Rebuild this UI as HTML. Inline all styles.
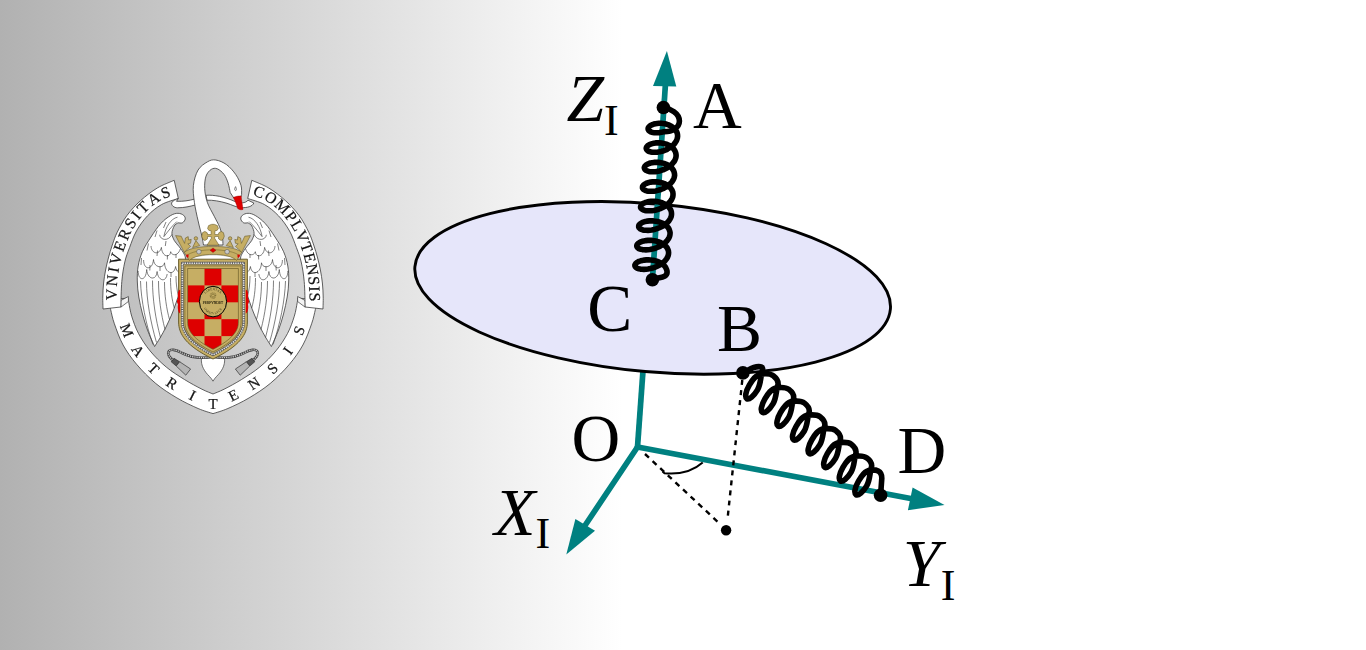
<!DOCTYPE html>
<html><head><meta charset="utf-8"><title>diagram</title>
<style>
html,body{margin:0;padding:0;}
body{width:1366px;height:650px;overflow:hidden;background:#fff;font-family:"Liberation Serif",serif;}
#bg{position:absolute;left:0;top:0;width:1366px;height:650px;
background:linear-gradient(90deg,#b1b1b1 0px,#ffffff 622px,#ffffff 100%);}
svg{position:absolute;left:0;top:0;}
text{font-family:"Liberation Serif",serif;}
</style></head><body><div id="bg"></div>
<svg width="1366" height="650" viewBox="0 0 1366 650">

<g id="diagram">
<line x1="637.5" y1="447.0" x2="642.9" y2="372" stroke="#008080" stroke-width="5.7"/>
<ellipse cx="652.65" cy="287.85" rx="238.7" ry="84.0" transform="rotate(5.12 652.65 287.85)" fill="#e6e6fa" stroke="#000" stroke-width="2.9"/>
<line x1="652.4" y1="280" x2="665.45" y2="84" stroke="#008080" stroke-width="5.7"/>
<polygon points="666.9,51 653,86 676.3,86.5" fill="#008080"/>
<line x1="637.5" y1="447.0" x2="912" y2="498.7" stroke="#008080" stroke-width="5.7" stroke-linecap="round"/>
<polygon points="944.5,505 912.6,487.5 907.9,510.2" fill="#008080"/>
<line x1="637.5" y1="447.0" x2="584" y2="527" stroke="#008080" stroke-width="5.7" stroke-linecap="round"/>
<polygon points="566.3,554.5 575.4,519 595,530.7" fill="#008080"/>
<line x1="645" y1="454" x2="719" y2="523" stroke="#000" stroke-width="2.4" stroke-dasharray="5.4,5"/>
<line x1="742.3" y1="380" x2="727.5" y2="519" stroke="#000" stroke-width="2.4" stroke-dasharray="5,5.1"/>
<circle cx="726.1" cy="530.2" r="5.2" fill="#000"/>
<path d="M662.5,471.5 L664.5,473.2 Q688,475.5 702.7,462.5" fill="none" stroke="#000" stroke-width="2"/>
<path d="M663.4,107.5 C670,108.5 679.6,113 679.4,121.3 C679.3,127.5 672.2,132.1 663.7,131.8 L663.7,131.8 L661.6,132.2 L659.7,132.6 L657.8,132.8 L656.0,132.8 L654.3,132.7 L652.8,132.5 L651.4,132.1 L650.3,131.6 L649.4,131.0 L648.7,130.4 L648.3,129.7 L648.1,128.9 L648.2,128.1 L648.6,127.3 L649.2,126.6 L650.0,125.9 L651.1,125.2 L652.4,124.6 L653.8,124.1 L655.5,123.7 L657.2,123.5 L659.0,123.3 L661.0,123.3 L662.9,123.5 L664.9,123.8 L666.8,124.3 L668.6,124.9 L670.3,125.7 L672.0,126.7 L673.4,127.7 L674.7,128.9 L675.7,130.2 L676.6,131.6 L677.2,133.1 L677.5,134.6 L677.6,136.2 L677.4,137.8 L676.9,139.4 L676.3,141.0 L675.3,142.5 L674.2,144.0 L672.8,145.4 L671.2,146.7 L669.5,147.9 L667.7,148.9 L665.8,149.9 L663.8,150.7 L661.7,151.3 L659.7,151.8 L657.7,152.1 L655.8,152.3 L654.0,152.3 L652.3,152.2 L650.8,151.9 L649.4,151.6 L648.3,151.1 L647.4,150.5 L646.8,149.8 L646.4,149.1 L646.2,148.3 L646.4,147.6 L646.7,146.8 L647.4,146.0 L648.3,145.3 L649.4,144.6 L650.7,144.1 L652.2,143.6 L653.8,143.2 L655.6,142.9 L657.5,142.8 L659.4,142.9 L661.4,143.0 L663.4,143.4 L665.3,143.9 L667.2,144.5 L668.9,145.3 L670.5,146.2 L672.0,147.3 L673.3,148.5 L674.3,149.8 L675.1,151.2 L675.7,152.7 L676.0,154.3 L676.1,155.8 L675.9,157.4 L675.4,159.0 L674.7,160.6 L673.7,162.1 L672.5,163.6 L671.1,165.0 L669.5,166.3 L667.8,167.5 L665.9,168.5 L663.9,169.5 L661.9,170.2 L659.8,170.9 L657.8,171.3 L655.8,171.7 L653.8,171.8 L652.0,171.8 L650.3,171.7 L648.8,171.4 L647.5,171.0 L646.3,170.5 L645.5,169.9 L644.8,169.3 L644.5,168.5 L644.3,167.8 L644.5,167.0 L644.9,166.2 L645.6,165.5 L646.5,164.7 L647.7,164.1 L649.0,163.5 L650.5,163.0 L652.2,162.7 L654.0,162.4 L656.0,162.3 L657.9,162.4 L659.9,162.6 L661.9,162.9 L663.9,163.4 L665.7,164.1 L667.5,164.9 L669.1,165.8 L670.6,166.9 L671.8,168.1 L672.9,169.5 L673.7,170.9 L674.2,172.4 L674.5,173.9 L674.6,175.5 L674.3,177.1 L673.8,178.7 L673.0,180.2 L672.0,181.8 L670.8,183.2 L669.4,184.6 L667.7,185.9 L666.0,187.1 L664.1,188.1 L662.1,189.0 L660.0,189.8 L657.9,190.4 L655.8,190.9 L653.8,191.2 L651.9,191.3 L650.0,191.3 L648.3,191.2 L646.8,190.9 L645.5,190.5 L644.4,190.0 L643.5,189.4 L642.9,188.7 L642.5,188.0 L642.5,187.2 L642.6,186.4 L643.1,185.7 L643.8,184.9 L644.8,184.2 L645.9,183.5 L647.3,183.0 L648.9,182.5 L650.6,182.1 L652.5,181.9 L654.4,181.8 L656.4,181.9 L658.4,182.1 L660.5,182.5 L662.4,183.0 L664.3,183.6 L666.1,184.5 L667.7,185.4 L669.2,186.5 L670.4,187.8 L671.4,189.1 L672.2,190.5 L672.8,192.0 L673.0,193.5 L673.0,195.1 L672.8,196.7 L672.2,198.3 L671.4,199.9 L670.4,201.4 L669.1,202.9 L667.6,204.3 L666.0,205.5 L664.2,206.7 L662.2,207.7 L660.2,208.6 L658.1,209.4 L656.0,210.0 L653.9,210.4 L651.8,210.7 L649.9,210.8 L648.0,210.8 L646.3,210.7 L644.8,210.4 L643.5,210.0 L642.4,209.5 L641.6,208.8 L641.0,208.2 L640.6,207.4 L640.6,206.7 L640.8,205.9 L641.3,205.1 L642.0,204.3 L643.0,203.6 L644.2,203.0 L645.7,202.4 L647.3,202.0 L649.0,201.6 L650.9,201.4 L652.9,201.3 L654.9,201.4 L657.0,201.6 L659.0,202.0 L661.0,202.5 L662.9,203.2 L664.7,204.1 L666.3,205.0 L667.8,206.1 L669.0,207.4 L670.0,208.7 L670.8,210.1 L671.3,211.6 L671.5,213.2 L671.5,214.8 L671.2,216.4 L670.6,218.0 L669.8,219.5 L668.7,221.1 L667.4,222.5 L665.9,223.9 L664.2,225.1 L662.4,226.3 L660.4,227.3 L658.3,228.2 L656.2,228.9 L654.1,229.5 L651.9,230.0 L649.9,230.2 L647.9,230.4 L646.0,230.3 L644.3,230.2 L642.8,229.9 L641.5,229.4 L640.4,228.9 L639.6,228.3 L639.0,227.6 L638.7,226.9 L638.7,226.1 L638.9,225.3 L639.5,224.5 L640.2,223.8 L641.3,223.1 L642.5,222.4 L644.0,221.9 L645.6,221.4 L647.4,221.1 L649.4,220.9 L651.4,220.8 L653.4,220.9 L655.5,221.2 L657.6,221.5 L659.6,222.1 L661.5,222.8 L663.3,223.6 L664.9,224.6 L666.3,225.8 L667.6,227.0 L668.6,228.3 L669.3,229.8 L669.8,231.3 L670.1,232.8 L670.0,234.4 L669.7,236.0 L669.1,237.6 L668.2,239.2 L667.1,240.7 L665.7,242.1 L664.2,243.5 L662.4,244.8 L660.5,245.9 L658.5,246.9 L656.4,247.8 L654.3,248.5 L652.1,249.1 L650.0,249.5 L647.9,249.8 L645.9,249.9 L644.1,249.8 L642.4,249.6 L640.8,249.3 L639.5,248.9 L638.5,248.4 L637.6,247.7 L637.1,247.0 L636.8,246.3 L636.8,245.5 L637.1,244.7 L637.6,244.0 L638.5,243.2 L639.5,242.5 L640.8,241.9 L642.3,241.3 L644.0,240.9 L645.9,240.6 L647.8,240.4 L649.8,240.3 L651.9,240.4 L654.0,240.7 L656.1,241.1 L658.1,241.7 L660.1,242.4 L661.9,243.2 L663.5,244.2 L664.9,245.4 L666.2,246.6 L667.2,248.0 L667.9,249.4 L668.4,250.9 L668.6,252.5 L668.5,254.1 L668.1,255.7 L667.5,257.3 L666.6,258.8 L665.4,260.3 L664.0,261.8 L662.4,263.1 L660.6,264.4 L658.7,265.5 L656.7,266.5 L654.6,267.4 L652.4,268.1 L650.2,268.6 L648.0,269.0 L645.9,269.3 L643.9,269.4 L642.1,269.3 L640.4,269.1 L638.8,268.8 L637.5,268.4 L636.5,267.8 L635.7,267.2 L635.2,266.5 L634.9,265.7 L634.9,265.0 L635.3,264.2 L635.8,263.4 L636.7,262.7 L637.8,262.0 L639.1,261.3 L640.7,260.8 L642.4,260.4 L644.3,260.1 L646.3,259.9 L648.3,259.8 L650.5,260.0 L652.6,260.2 L654.7,260.6 L656.7,261.2 L658.7,261.9 L660.5,262.8 L662.1,263.8 L663.5,265.0 L664.8,266.2 L665.7,267.6 L666.4,269.1 L666.9,270.6 C668.6,279.0 656.7,277.0 652.4,279.8" fill="none" stroke="#000" stroke-width="5.6" stroke-linejoin="round" stroke-linecap="round"/>
<circle cx="663.4" cy="107.5" r="6.8" fill="#000"/>
<circle cx="652.4" cy="279.8" r="6.8" fill="#000"/>
<path d="M742.9,372.9 C749.7,369.8 753.1,365.7 760.5,366.8 C764.1,367.3 762.2,370.4 761.5,374.0 C760.4,379.8 760.4,384.8 757.5,389.9 C753.8,396.1 749.1,400.0 746.8,398.7 C744.6,397.4 745.7,391.3 749.3,385.1 C752.3,380.0 755.6,374.7 761.5,374.0 C765.8,373.5 769.9,373.1 773.3,375.7 C775.9,377.7 778.1,380.2 778.1,383.5 C778.1,385.1 777.4,386.2 777.1,387.7 C776.0,393.5 776.0,398.5 773.1,403.6 C769.4,409.8 764.7,413.7 762.4,412.4 C760.2,411.1 761.3,405.0 764.9,398.8 C767.9,393.7 771.2,388.4 777.1,387.7 C781.4,387.2 785.5,386.8 788.9,389.4 C791.5,391.4 793.7,393.9 793.7,397.2 C793.7,398.8 793.0,399.9 792.7,401.4 C791.6,407.2 791.6,412.2 788.7,417.3 C785.0,423.5 780.3,427.5 778.0,426.1 C775.8,424.8 776.9,418.7 780.5,412.5 C783.5,407.4 786.8,402.1 792.7,401.4 C797.0,400.9 801.1,400.5 804.5,403.1 C807.1,405.1 809.3,407.6 809.3,410.9 C809.3,412.5 808.6,413.6 808.3,415.1 C807.2,420.9 807.2,425.9 804.3,431.0 C800.6,437.2 795.9,441.2 793.6,439.9 C791.4,438.5 792.5,432.5 796.1,426.3 C799.1,421.1 802.4,415.8 808.3,415.1 C812.6,414.7 816.7,414.3 820.1,416.8 C822.7,418.8 824.9,421.3 824.9,424.6 C824.9,426.2 824.2,427.3 823.9,428.8 C822.8,434.6 822.8,439.6 819.9,444.7 C816.2,450.9 811.5,454.9 809.2,453.6 C807.0,452.3 808.1,446.2 811.7,440.0 C814.7,434.8 818.0,429.5 823.9,428.8 C828.2,428.4 832.3,428.0 835.7,430.5 C838.3,432.5 840.5,435.0 840.5,438.3 C840.5,439.9 839.8,441.0 839.5,442.6 C838.4,448.3 838.4,453.3 835.5,458.4 C831.8,464.6 827.1,468.6 824.8,467.3 C822.6,466.0 823.7,459.9 827.3,453.7 C830.3,448.6 833.6,443.2 839.5,442.6 C843.8,442.1 847.9,441.7 851.3,444.2 C853.9,446.2 856.1,448.8 856.1,452.1 C856.1,453.6 855.4,454.7 855.1,456.3 C854.0,462.0 854.0,467.0 851.1,472.1 C847.4,478.3 842.7,482.3 840.4,481.0 C838.2,479.7 839.3,473.6 842.9,467.4 C845.9,462.3 849.2,456.9 855.1,456.3 C859.4,455.8 863.5,455.4 866.9,458.0 C869.5,459.9 871.7,462.5 871.7,465.8 C871.7,467.3 871.0,468.4 870.7,470.0 C869.6,475.8 869.6,480.8 866.7,485.8 C863.0,492.0 858.3,496.0 856.0,494.7 C853.8,493.4 854.9,487.3 858.5,481.1 C861.5,476.0 864.8,470.6 870.7,470.0 C873.4,469.7 875.8,469.8 878.2,471.0 C881.1,472.4 881.8,475.0 881.8,478.3 L880.6,495.3" fill="none" stroke="#000" stroke-width="5.6" stroke-linejoin="round" stroke-linecap="round"/>
<circle cx="742.9" cy="372.9" r="6.8" fill="#000"/>
<circle cx="880.6" cy="495.3" r="6.8" fill="#000"/>
<text x="566.6" y="121.4" font-size="67.5" font-style="italic">Z</text>
<text x="604.0" y="135.0" font-size="44.0">I</text>
<text x="693.0" y="127.8" font-size="67.5">A</text>
<text x="587.3" y="331.2" font-size="67.5">C</text>
<text x="717.0" y="351.2" font-size="67.5">B</text>
<text x="571.6" y="461.3" font-size="67.5">O</text>
<text x="897.6" y="473.4" font-size="67.5">D</text>
<text x="494.3" y="534.8" font-size="67.5" font-style="italic">X</text>
<text x="535.5" y="547.8" font-size="44.0">I</text>
<text x="902.8" y="586.2" font-size="67.5" font-style="italic">Y</text>
<text x="940.8" y="600.0" font-size="44.0">I</text>
</g>
</svg>
<svg id="crestsvg" width="260" height="290" viewBox="80 140 260 290" style="left:80px;top:140px;will-change:transform;">
<g id="crest" stroke-linejoin="round">
<path d="M108.5,300.0 C108.8,301.6 109.6,305.4 110.6,309.4 C111.6,313.4 112.3,317.9 114.4,323.8 C116.5,329.7 119.4,338.3 123.1,345.0 C126.8,351.7 131.1,357.8 136.5,364.2 C141.9,370.6 149.1,377.9 155.8,383.5 C162.5,389.1 169.9,393.7 176.9,397.9 C183.9,402.1 192.1,405.9 198.1,408.5 C204.1,411.1 210.5,412.8 213.0,413.6 C215.5,412.8 221.9,411.1 227.9,408.5 C233.9,405.9 242.1,402.1 249.1,397.9 C256.1,393.7 263.5,389.1 270.2,383.5 C276.9,377.9 284.1,370.6 289.5,364.2 C294.9,357.8 299.2,351.7 302.9,345.0 C306.6,338.3 309.5,329.7 311.6,323.8 C313.7,317.9 314.4,313.4 315.4,309.4 C316.4,305.4 317.1,301.6 317.5,300.0 L297.8,298.0 C297.7,298.8 297.8,299.7 297.2,302.7 C296.6,305.7 295.9,311.1 294.3,316.2 C292.7,321.3 290.6,327.7 287.5,333.5 C284.4,339.3 280.6,345.2 276.0,350.8 C271.4,356.4 265.5,362.3 259.7,367.1 C253.9,371.9 247.3,375.9 241.4,379.6 C235.5,383.3 228.8,386.8 224.1,389.2 C219.4,391.6 214.8,393.2 213.0,394.0 C211.2,393.2 206.6,391.6 201.9,389.2 C197.2,386.8 190.5,383.3 184.6,379.6 C178.7,375.9 172.1,371.9 166.3,367.1 C160.5,362.3 154.6,356.4 150.0,350.8 C145.4,345.2 141.6,339.3 138.5,333.5 C135.4,327.7 133.3,321.3 131.7,316.2 C130.1,311.1 129.4,305.7 128.8,302.7 C128.2,299.7 128.3,298.8 128.2,298.0Z" fill="#fff" stroke="#3a3a3a" stroke-width="0.8"/>
<path d="M120.8,307.2 L128.4,301.5 L128.4,296.5 L120.8,300.5Z" fill="#f4f4f4" stroke="#3a3a3a" stroke-width="0.7"/>
<path d="M305.2,307.2 L297.6,301.5 L297.6,296.5 L305.2,300.5Z" fill="#f4f4f4" stroke="#3a3a3a" stroke-width="0.7"/>
<path d="M103.0,309.0 C103.0,307.0 102.7,301.3 102.8,297.0 C102.9,292.7 103.1,287.5 103.6,283.0 C104.1,278.5 104.8,274.2 105.6,270.0 C106.4,265.8 107.3,262.2 108.4,258.0 C109.5,253.8 110.8,249.3 112.3,245.0 C113.8,240.7 114.8,237.2 117.2,232.3 C119.6,227.4 122.9,221.0 126.8,215.7 C130.7,210.4 135.6,205.1 140.7,200.5 C145.8,195.9 151.7,191.4 157.3,188.0 C162.9,184.6 171.4,181.6 174.2,180.3 L178.3,198.5 C175.5,199.5 166.6,201.7 161.5,204.6 C156.4,207.5 151.8,211.3 147.6,215.7 C143.4,220.1 139.5,225.6 136.5,230.9 C133.5,236.2 131.5,242.3 129.6,247.5 C127.6,252.7 126.1,256.3 124.8,262.0 C123.5,267.7 122.5,274.0 121.8,281.5 C121.1,289.0 121.0,302.8 120.8,307.0Z" fill="#fff" stroke="#3a3a3a" stroke-width="0.8"/>
<path d="M323.0,309.0 C323.0,307.0 323.3,301.3 323.2,297.0 C323.1,292.7 322.9,287.5 322.4,283.0 C321.9,278.5 321.2,274.2 320.4,270.0 C319.6,265.8 318.7,262.2 317.6,258.0 C316.5,253.8 315.2,249.3 313.7,245.0 C312.2,240.7 311.2,237.2 308.8,232.3 C306.4,227.4 303.1,221.0 299.2,215.7 C295.3,210.4 290.4,205.1 285.3,200.5 C280.2,195.9 274.3,191.4 268.7,188.0 C263.1,184.6 254.6,181.6 251.8,180.3 L247.7,198.5 C250.5,199.5 259.4,201.7 264.5,204.6 C269.6,207.5 274.2,211.3 278.4,215.7 C282.6,220.1 286.5,225.6 289.5,230.9 C292.5,236.2 294.4,242.3 296.4,247.5 C298.3,252.7 299.9,256.3 301.2,262.0 C302.5,267.7 303.5,274.0 304.2,281.5 C304.9,289.0 305.0,302.8 305.2,307.0Z" fill="#fff" stroke="#3a3a3a" stroke-width="0.8"/>
<path d="M178.3,198.5 C176,199.5 172.5,200.5 171.6,203 C171.3,205.5 174,207.8 177.5,207.8 C184,207.8 190,206.5 196.5,204.6 L195,199 C189,200.6 183,201.6 176.5,201.3Z" fill="#fff" stroke="#3a3a3a" stroke-width="0.8"/>
<path d="M206,195.3 C214,194.8 224,196.5 235,201.5 C240,203.6 245.5,203.4 248,200.2 L253.8,203 C252.5,206.5 247,208 241,207.6 C236,207.3 232,204.8 227,203.3 C220,201.2 213,200 207,200.2Z" fill="#fff" stroke="#3a3a3a" stroke-width="0.8"/>
<g>
<path d="M178.0,222.8 C178.7,222.8 181.2,223.4 182.4,222.8 C183.6,222.2 185.0,220.3 185.2,219.1 C185.4,217.8 184.8,216.3 183.6,215.3 C182.4,214.3 180.2,213.3 178.0,213.3 C175.8,213.3 173.6,213.8 170.7,215.5 C167.8,217.2 164.1,219.9 160.8,223.5 C157.5,227.1 154.1,232.3 151.0,237.0 C147.9,241.7 144.5,246.9 142.4,251.7 C140.3,256.5 139.0,261.1 138.2,266.0 C137.3,270.9 137.2,275.8 137.3,281.0 C137.4,286.2 137.9,291.5 138.8,297.0 C139.7,302.5 141.1,308.5 142.5,314.0 C143.9,319.5 145.5,324.6 147.5,330.0 C149.5,335.4 153.4,343.8 154.6,346.5 C155.5,345.1 158.1,341.2 160.0,338.0 C161.9,334.8 164.1,330.8 166.0,327.0 C167.9,323.2 169.8,319.0 171.5,315.0 C173.2,311.0 174.6,307.2 176.0,303.0 C177.4,298.8 178.7,295.2 180.0,290.0 C181.3,284.8 183.1,277.0 184.0,272.0 C184.9,267.0 185.5,263.0 185.5,260.0 C185.5,257.0 185.2,256.4 184.2,254.2 C183.2,252.0 180.9,249.1 179.3,246.8 C177.7,244.6 175.6,242.9 174.4,240.7 C173.2,238.4 171.9,235.8 171.9,233.3 C171.9,230.9 173.2,227.8 174.2,226.0 C175.2,224.2 177.4,223.3 178.0,222.8Z" fill="#fff" stroke="#3a3a3a" stroke-width="0.8"/>
<path d="M177.5,217.2 C171,218.5 165.5,227 163.9,236.6 C167.5,232 172,226 176.8,221.6" fill="none" stroke="#3a3a3a" stroke-width="0.65"/>
<path d="M159.6,234.8 C160.5,240.5 168.5,241.5 171.9,234.5" fill="none" stroke="#3a3a3a" stroke-width="0.65"/>
<path d="M151,246 C151.5,254 159.5,255.5 161.4,247.4 C162,257 170,258.5 170.7,251.7 C172,256 178,256.5 180.5,248.5" fill="none" stroke="#3a3a3a" stroke-width="0.65"/>
<path d="M143.6,260 C143.5,270 152.5,271 153.5,259.5 C154,268 163.500,269 164.5,262.8 C165,274 174.5,276 175.6,266.5 C176.5,272 180,274 182,271" fill="none" stroke="#3a3a3a" stroke-width="0.65"/>
<path d="M138.2,271 C138,281 146,282 146.7,269.5 C147.5,280 156.500,281 157.1,271.5 C158,281 166,283 167.2,274" fill="none" stroke="#3a3a3a" stroke-width="0.65"/>
<path d="M166,222 L163.5,228 M157,230.5 L155,237 M166,241 L165.300,246 M148.5,243.5 L147,250.5 M157.5,250.5 L157,256 M167.5,255 L167.3,259.5 M176,254 L176,258 M141.5,258 L141,265 M150,265 L149.800,270.500 M160,266 L160,271 M171,272 L171,277" fill="none" stroke="#3a3a3a" stroke-width="0.65"/>
<path d="M140.5,281 C141,300 146,325 153,344.5 M146.5,281.500 C146.5,300 150.5,322 156.5,342.5 M152.5,280.5 C152.5,299 155.500,319 160.500,337.5 M158.5,281 C158.5,297 161,314 165,329.5 M164.5,282 C164.5,295 166.5,309 169.5,319.5 M170.5,278 C170.5,290 172,300 174.3,308 M176,276 C176,284 177,291 178.5,296" fill="none" stroke="#3a3a3a" stroke-width="0.65"/>
</g>
<g transform="translate(426.0,0) scale(-1,1)">
<path d="M178.0,222.8 C178.7,222.8 181.2,223.4 182.4,222.8 C183.6,222.2 185.0,220.3 185.2,219.1 C185.4,217.8 184.8,216.3 183.6,215.3 C182.4,214.3 180.2,213.3 178.0,213.3 C175.8,213.3 173.6,213.8 170.7,215.5 C167.8,217.2 164.1,219.9 160.8,223.5 C157.5,227.1 154.1,232.3 151.0,237.0 C147.9,241.7 144.5,246.9 142.4,251.7 C140.3,256.5 139.0,261.1 138.2,266.0 C137.3,270.9 137.2,275.8 137.3,281.0 C137.4,286.2 137.9,291.5 138.8,297.0 C139.7,302.5 141.1,308.5 142.5,314.0 C143.9,319.5 145.5,324.6 147.5,330.0 C149.5,335.4 153.4,343.8 154.6,346.5 C155.5,345.1 158.1,341.2 160.0,338.0 C161.9,334.8 164.1,330.8 166.0,327.0 C167.9,323.2 169.8,319.0 171.5,315.0 C173.2,311.0 174.6,307.2 176.0,303.0 C177.4,298.8 178.7,295.2 180.0,290.0 C181.3,284.8 183.1,277.0 184.0,272.0 C184.9,267.0 185.5,263.0 185.5,260.0 C185.5,257.0 185.2,256.4 184.2,254.2 C183.2,252.0 180.9,249.1 179.3,246.8 C177.7,244.6 175.6,242.9 174.4,240.7 C173.2,238.4 171.9,235.8 171.9,233.3 C171.9,230.9 173.2,227.8 174.2,226.0 C175.2,224.2 177.4,223.3 178.0,222.8Z" fill="#fff" stroke="#3a3a3a" stroke-width="0.8"/>
<path d="M177.5,217.2 C171,218.5 165.5,227 163.9,236.6 C167.5,232 172,226 176.8,221.6" fill="none" stroke="#3a3a3a" stroke-width="0.65"/>
<path d="M159.6,234.8 C160.5,240.5 168.5,241.5 171.9,234.5" fill="none" stroke="#3a3a3a" stroke-width="0.65"/>
<path d="M151,246 C151.5,254 159.5,255.5 161.4,247.4 C162,257 170,258.5 170.7,251.7 C172,256 178,256.5 180.5,248.5" fill="none" stroke="#3a3a3a" stroke-width="0.65"/>
<path d="M143.6,260 C143.5,270 152.5,271 153.5,259.5 C154,268 163.500,269 164.5,262.8 C165,274 174.5,276 175.6,266.5 C176.5,272 180,274 182,271" fill="none" stroke="#3a3a3a" stroke-width="0.65"/>
<path d="M138.2,271 C138,281 146,282 146.7,269.5 C147.5,280 156.500,281 157.1,271.5 C158,281 166,283 167.2,274" fill="none" stroke="#3a3a3a" stroke-width="0.65"/>
<path d="M166,222 L163.5,228 M157,230.5 L155,237 M166,241 L165.300,246 M148.5,243.5 L147,250.5 M157.5,250.5 L157,256 M167.5,255 L167.3,259.5 M176,254 L176,258 M141.5,258 L141,265 M150,265 L149.800,270.500 M160,266 L160,271 M171,272 L171,277" fill="none" stroke="#3a3a3a" stroke-width="0.65"/>
<path d="M140.5,281 C141,300 146,325 153,344.5 M146.5,281.500 C146.5,300 150.5,322 156.5,342.5 M152.5,280.5 C152.5,299 155.500,319 160.500,337.5 M158.5,281 C158.5,297 161,314 165,329.5 M164.5,282 C164.5,295 166.5,309 169.5,319.5 M170.5,278 C170.5,290 172,300 174.3,308 M176,276 C176,284 177,291 178.5,296" fill="none" stroke="#3a3a3a" stroke-width="0.65"/>
</g>
<path d="M201.5,358 C200.5,366 205,372 209.5,376.5 C211,378 212,379.5 213,381.2 C214,379.5 215,378 216.5,376.5 C221,372 225.5,366 224.5,358Z" fill="#fff" stroke="#3a3a3a" stroke-width="0.7"/>
<g>
<path d="M213,356.5 C204,358.5 192,358 182,353 C176,349.5 170,348.5 168.3,352 C167.5,355 170.5,358.5 174.5,361" fill="none" stroke="#444" stroke-width="2.6"/>
<path d="M213,356.5 C204,358.5 192,358 182,353 C176,349.5 170,348.5 168.3,352 C167.5,355 170.5,358.5 174.5,361" fill="none" stroke="#cfcfcf" stroke-width="1.3" stroke-dasharray="1.2,1.0"/>
<path d="M174,358.3 L179.7,361.8 L176.2,366 L171.2,361.8Z" fill="#555" stroke="#222" stroke-width="0.6"/>
<path d="M179.7,361.8 L190.6,369 L185.8,375.2 L176.2,366Z" fill="#b4b4b4" stroke="#333" stroke-width="0.7"/>
</g>
<g transform="translate(426.0,0) scale(-1,1)">
<path d="M213,356.5 C204,358.5 192,358 182,353 C176,349.5 170,348.5 168.3,352 C167.5,355 170.5,358.5 174.5,361" fill="none" stroke="#444" stroke-width="2.6"/>
<path d="M213,356.5 C204,358.5 192,358 182,353 C176,349.5 170,348.5 168.3,352 C167.5,355 170.5,358.5 174.5,361" fill="none" stroke="#cfcfcf" stroke-width="1.3" stroke-dasharray="1.2,1.0"/>
<path d="M174,358.3 L179.7,361.8 L176.2,366 L171.2,361.8Z" fill="#555" stroke="#222" stroke-width="0.6"/>
<path d="M179.7,361.8 L190.6,369 L185.8,375.2 L176.2,366Z" fill="#b4b4b4" stroke="#333" stroke-width="0.7"/>
</g>
<path d="M203.5,245.0 C203.2,243.5 202.8,240.2 201.9,236.2 C201.0,232.2 199.3,226.5 198.1,220.8 C196.8,215.2 195.2,208.2 194.4,202.3 C193.6,196.4 192.8,190.8 193.4,185.4 C194.0,180.0 195.8,173.9 198.1,170.0 C200.4,166.1 204.6,163.5 207.5,161.8 C210.4,160.1 212.6,159.5 215.8,160.0 C219.0,160.5 223.2,162.2 226.5,164.6 C229.8,167.0 233.4,171.1 235.8,174.6 C238.2,178.1 240.0,182.1 241.0,185.4 C242.0,188.7 241.5,193.1 241.6,194.6 L240.3,198 L233.8,198 L230.2,192.5 C229.8,190.9 229.1,186.1 228.1,183.1 C227.1,180.1 226.0,177.0 224.2,174.6 C222.4,172.2 219.5,169.7 217.3,168.8 C215.1,167.9 213.1,168.2 211.2,169.4 C209.3,170.6 207.1,173.0 206.0,176.2 C204.9,179.4 204.5,184.2 204.7,188.5 C204.9,192.8 205.7,197.7 207.3,202.3 C208.9,206.9 212.1,212.1 214.2,216.2 C216.2,220.3 218.2,223.6 219.6,226.9 C220.9,230.2 221.7,233.2 222.3,236.2 C222.9,239.2 222.9,243.5 223.0,245.0Z" fill="#fff" stroke="#3a3a3a" stroke-width="0.8"/>
<path d="M233.3,197.4 C236,196.3 239,195.8 241.2,196 C241.6,201 242.7,206 243,209.4 C241.5,210.3 239,209.6 237.6,208.4 C236.5,204.5 235,200.5 233.3,197.4Z" fill="#de0000" stroke="#900" stroke-width="0.4"/>
<path d="M235.6,186.6 C234.4,188.4 234.3,190.3 235.6,190.6 C236.8,190.5 236.6,188.8 235.6,186.6Z" fill="none" stroke="#3a3a3a" stroke-width="0.6"/>
<path d="M188,260 C196,254 230,254 238,260Z" fill="#fff"/>
<path d="M178.6,259.2 L247.4,259.2 L247.4,322 C247.4,334 240,346 213,359 C186,346 178.6,334 178.6,322Z" fill="#c6ae64" stroke="#5f5220" stroke-width="0.9"/>
<path d="M182.3,263.2 L243.7,263.2 L243.7,322 C243.7,332.5 237,343 213,354.8 C189,343 182.3,332.5 182.3,322Z" fill="none" stroke="#5a5a5a" stroke-width="2.7"/>
<path d="M182.3,263.2 L243.7,263.2 L243.7,322 C243.7,332.5 237,343 213,354.8 C189,343 182.3,332.5 182.3,322Z" fill="none" stroke="#e2e2e2" stroke-width="1.5" stroke-dasharray="1.4,0.9"/>
<path d="M184.9,265.9 L241.1,265.9 L241.1,322 C241.1,331.5 235,341 213,352 C191,341 184.9,331.5 184.9,322Z" fill="#c6ae64" stroke="#5f5220" stroke-width="0.6"/>
<clipPath id="fld"><path d="M187.6,268.5 L238.4,268.5 L238.4,322 C238.4,330.5 233,339 213,349.3 C193,339 187.6,330.5 187.6,322Z"/></clipPath>
<g clip-path="url(#fld)">
<rect x="185" y="266" width="56" height="86" fill="#c6ae64"/>
<rect x="204.5" y="268.5" width="16.9" height="16.9" fill="#de0000"/>
<rect x="187.6" y="285.4" width="16.9" height="16.9" fill="#de0000"/>
<rect x="221.4" y="285.4" width="17.0" height="16.9" fill="#de0000"/>
<rect x="204.5" y="302.3" width="16.9" height="16.9" fill="#de0000"/>
<rect x="187.6" y="319.2" width="16.9" height="16.9" fill="#de0000"/>
<rect x="221.4" y="319.2" width="17.0" height="16.9" fill="#de0000"/>
<rect x="204.5" y="336.1" width="16.9" height="16.9" fill="#de0000"/>
</g>
<path d="M187.6,268.5 L238.4,268.5 L238.4,322 C238.4,330.5 233,339 213,349.3 C193,339 187.6,330.5 187.6,322Z" fill="none" stroke="#5f5220" stroke-width="0.6"/>
<ellipse cx="213" cy="301.6" rx="13.6" ry="15.3" fill="#c6ae64" stroke="#000" stroke-width="1.0"/>

<circle cx="213" cy="295.6" r="1.5" fill="none" stroke="#5a4e1e" stroke-width="0.45"/><circle cx="213" cy="295.6" r="2.7" fill="none" stroke="#5a4e1e" stroke-width="1.1" stroke-dasharray="0.45,0.75"/>
<path id="sealtop" d="M203.3,298.2 A10,10.6 0 0 1 222.7,298.2" fill="none"/>
<path id="sealbot" d="M202.6,305 A10.6,11.6 0 0 0 223.4,305" fill="none"/>
<text font-size="3.3" fill="#3c3516" letter-spacing="0.25"><textPath href="#sealtop" startOffset="50%" text-anchor="middle">LIBERTAS</textPath></text>
<text x="213" y="304.2" font-size="3.4" fill="#2c2610" text-anchor="middle" letter-spacing="0.1" stroke="#2c2610" stroke-width="0.12">PERFVNDET</text>
<text font-size="3.3" fill="#3c3516" letter-spacing="0.25"><textPath href="#sealbot" startOffset="50%" text-anchor="middle">OMNIA LVCE</textPath></text>
<path d="M180.2,289.6 C178.2,290.2 177.2,294.5 178.1,298 C176.6,299.6 176.500,302.8 178.1,304.2 C177.2,307.8 178.2,312.8 180.2,313.4Z" fill="#de0000"/>
<path d="M180.2,289.6 C178.2,290.2 177.2,294.5 178.1,298 C176.6,299.6 176.500,302.8 178.1,304.2 C177.2,307.8 178.2,312.8 180.2,313.4Z" fill="#de0000" transform="translate(426.0,0) scale(-1,1)"/>
<path d="M184.2,252.3 C193,244.4 233,244.4 241.8,252.3 L236.6,260.4 C229,252.4 197,252.4 189.400,260.4Z" fill="#c6ae64" stroke="#5f5220" stroke-width="0.55"/>
<path d="M186.4,255.8 C195,247.8 231,247.8 239.6,255.8" fill="none" stroke="#5f5220" stroke-width="0.45"/>
<g>
<path d="M184.2,252.3 L175.6,235.6 L181.2,236.2 L184.6,243.4 L185.4,238 L188.2,236.6 L188.6,240 L191.200,239.4 L190.6,243.2 L187.8,243.8 L190.5,246.3 L187.3,249.5Z" fill="#c6ae64" stroke="#5f5220" stroke-width="0.55"/>
<path d="M192.6,247.6 L195.9,240.6 L199.8,245.6Z" fill="#c6ae64" stroke="#5f5220" stroke-width="0.55"/>
<circle cx="195.9" cy="238.4" r="1.75" fill="#c6ae64" stroke="#5f5220" stroke-width="0.55"/>
<circle cx="198.9" cy="251.7" r="2.3" fill="#c8c8c8" stroke="#555" stroke-width="0.5"/>
<path d="M186,254.8 L188.6,254.6 L188.4,257.4 L186.8,257.6Z" fill="#de0000"/>
</g>
<g transform="translate(426.0,0) scale(-1,1)">
<path d="M184.2,252.3 L175.6,235.6 L181.2,236.2 L184.6,243.4 L185.4,238 L188.2,236.6 L188.6,240 L191.200,239.4 L190.6,243.2 L187.8,243.8 L190.5,246.3 L187.3,249.5Z" fill="#c6ae64" stroke="#5f5220" stroke-width="0.55"/>
<path d="M192.6,247.6 L195.9,240.6 L199.8,245.6Z" fill="#c6ae64" stroke="#5f5220" stroke-width="0.55"/>
<circle cx="195.9" cy="238.4" r="1.75" fill="#c6ae64" stroke="#5f5220" stroke-width="0.55"/>
<circle cx="198.9" cy="251.7" r="2.3" fill="#c8c8c8" stroke="#555" stroke-width="0.5"/>
<path d="M186,254.8 L188.6,254.6 L188.4,257.4 L186.8,257.6Z" fill="#de0000"/>
</g>
<path d="M207,245.2 L211.4,238.2 L211.3,236.6 L207.6,236.5 L207.3,239 L204.8,240.6 L202.9,239.2 L201.7,236.2 L202.6,232.6 L204.9,231.4 L207.2,232.8 L207.6,234.6 L211.2,234.5 L211,230.6 L208.900,230.4 L207.6,228.4 L208.6,225.6 L211.4,224.4 L213,224.3 L214.6,224.4 L217.4,225.6 L218.4,228.4 L217.1,230.4 L215,230.6 L214.8,234.5 L218.4,234.6 L218.8,232.8 L221.1,231.4 L223.4,232.6 L224.3,236.2 L223.1,239.2 L221.2,240.6 L218.7,239 L218.4,236.5 L214.7,236.6 L214.6,238.2 L219,245.200Z" fill="#c6ae64" stroke="#5f5220" stroke-width="0.55"/>
<path d="M213,247.9 L216,250.300 L213,252.6 L210,250.3Z" fill="#de0000" stroke="#6a1010" stroke-width="0.3"/>
<text transform="translate(116.57,294.80) rotate(-88.2)" font-size="15.8" text-anchor="middle" fill="#141414" stroke="#141414" stroke-width="0.22">V</text>
<text transform="translate(117.35,281.14) rotate(-84.5)" font-size="15.8" text-anchor="middle" fill="#141414" stroke="#141414" stroke-width="0.22">N</text>
<text transform="translate(118.76,270.62) rotate(-80.3)" font-size="15.8" text-anchor="middle" fill="#141414" stroke="#141414" stroke-width="0.22">I</text>
<text transform="translate(120.90,260.24) rotate(-76.0)" font-size="15.8" text-anchor="middle" fill="#141414" stroke="#141414" stroke-width="0.22">V</text>
<text transform="translate(124.79,248.05) rotate(-69.8)" font-size="15.8" text-anchor="middle" fill="#141414" stroke="#141414" stroke-width="0.22">E</text>
<text transform="translate(129.27,236.52) rotate(-66.9)" font-size="15.8" text-anchor="middle" fill="#141414" stroke="#141414" stroke-width="0.22">R</text>
<text transform="translate(134.72,225.92) rotate(-57.9)" font-size="15.8" text-anchor="middle" fill="#141414" stroke="#141414" stroke-width="0.22">S</text>
<text transform="translate(140.11,218.34) rotate(-51.7)" font-size="15.8" text-anchor="middle" fill="#141414" stroke="#141414" stroke-width="0.22">I</text>
<text transform="translate(146.62,211.12) rotate(-44.7)" font-size="15.8" text-anchor="middle" fill="#141414" stroke="#141414" stroke-width="0.22">T</text>
<text transform="translate(156.47,202.97) rotate(-34.1)" font-size="15.8" text-anchor="middle" fill="#141414" stroke="#141414" stroke-width="0.22">A</text>
<text transform="translate(167.45,197.35) rotate(-20.5)" font-size="15.8" text-anchor="middle" fill="#141414" stroke="#141414" stroke-width="0.22">S</text>
<text transform="translate(257.30,196.89) rotate(20.1)" font-size="15.8" text-anchor="middle" fill="#141414" stroke="#141414" stroke-width="0.22">C</text>
<text transform="translate(268.03,201.97) rotate(32.8)" font-size="15.8" text-anchor="middle" fill="#141414" stroke="#141414" stroke-width="0.22">O</text>
<text transform="translate(278.69,210.45) rotate(43.7)" font-size="15.8" text-anchor="middle" fill="#141414" stroke="#141414" stroke-width="0.22">M</text>
<text transform="translate(286.90,219.65) rotate(52.6)" font-size="15.8" text-anchor="middle" fill="#141414" stroke="#141414" stroke-width="0.22">P</text>
<text transform="translate(292.57,228.05) rotate(59.6)" font-size="15.8" text-anchor="middle" fill="#141414" stroke="#141414" stroke-width="0.22">L</text>
<text transform="translate(297.50,238.37) rotate(67.7)" font-size="15.8" text-anchor="middle" fill="#141414" stroke="#141414" stroke-width="0.22">V</text>
<text transform="translate(301.58,249.07) rotate(69.9)" font-size="15.8" text-anchor="middle" fill="#141414" stroke="#141414" stroke-width="0.22">T</text>
<text transform="translate(304.82,259.13) rotate(75.6)" font-size="15.8" text-anchor="middle" fill="#141414" stroke="#141414" stroke-width="0.22">E</text>
<text transform="translate(307.19,270.33) rotate(80.3)" font-size="15.8" text-anchor="middle" fill="#141414" stroke="#141414" stroke-width="0.22">N</text>
<text transform="translate(308.66,281.24) rotate(84.5)" font-size="15.8" text-anchor="middle" fill="#141414" stroke="#141414" stroke-width="0.22">S</text>
<text transform="translate(309.21,289.17) rotate(87.2)" font-size="15.8" text-anchor="middle" fill="#141414" stroke="#141414" stroke-width="0.22">I</text>
<text transform="translate(309.50,297.11) rotate(88.6)" font-size="15.8" text-anchor="middle" fill="#141414" stroke="#141414" stroke-width="0.22">S</text>
<text transform="translate(122.26,332.26) rotate(68.5)" font-size="15.0" text-anchor="middle" fill="#141414" stroke="#141414" stroke-width="0.22">M</text>
<text transform="translate(134.00,353.68) rotate(54.2)" font-size="15.0" text-anchor="middle" fill="#141414" stroke="#141414" stroke-width="0.22">A</text>
<text transform="translate(150.11,372.10) rotate(44.3)" font-size="15.0" text-anchor="middle" fill="#141414" stroke="#141414" stroke-width="0.22">T</text>
<text transform="translate(169.11,387.50) rotate(33.5)" font-size="15.0" text-anchor="middle" fill="#141414" stroke="#141414" stroke-width="0.22">R</text>
<text transform="translate(190.31,399.75) rotate(26.4)" font-size="15.0" text-anchor="middle" fill="#141414" stroke="#141414" stroke-width="0.22">I</text>
<text transform="translate(213.00,408.90) rotate(0.0)" font-size="15.0" text-anchor="middle" fill="#141414" stroke="#141414" stroke-width="0.22">T</text>
<text transform="translate(235.69,399.75) rotate(-26.4)" font-size="15.0" text-anchor="middle" fill="#141414" stroke="#141414" stroke-width="0.22">E</text>
<text transform="translate(256.89,387.50) rotate(-33.5)" font-size="15.0" text-anchor="middle" fill="#141414" stroke="#141414" stroke-width="0.22">N</text>
<text transform="translate(275.89,372.10) rotate(-44.3)" font-size="15.0" text-anchor="middle" fill="#141414" stroke="#141414" stroke-width="0.22">S</text>
<text transform="translate(292.00,353.68) rotate(-54.2)" font-size="15.0" text-anchor="middle" fill="#141414" stroke="#141414" stroke-width="0.22">I</text>
<text transform="translate(303.74,332.26) rotate(-68.5)" font-size="15.0" text-anchor="middle" fill="#141414" stroke="#141414" stroke-width="0.22">S</text>
</g>
</svg></body></html>
